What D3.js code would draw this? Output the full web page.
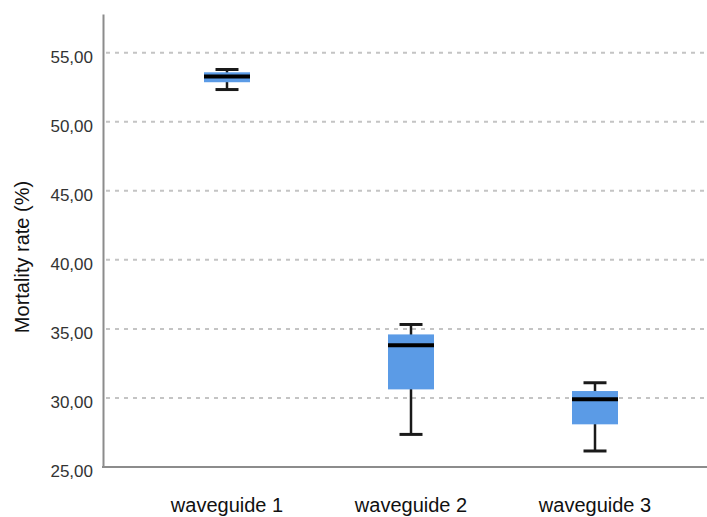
<!DOCTYPE html>
<meta charset="utf-8">
<style>
  body { margin: 0; background: #fff; }
  .grid line { stroke: #c4c4c4; stroke-width: 2px; stroke-dasharray: 4,5; }
  .axis path { stroke: #8c8c8c; stroke-width: 2px; }
  .yaxis text { font-family: "Liberation Sans", Arial, sans-serif; font-size: 17px; fill: #333; }
  .xaxis text { font-family: "Liberation Sans", Arial, sans-serif; font-size: 20px; fill: #111; }
  .title { font-family: "Liberation Sans", Arial, sans-serif; font-size: 20px; fill: #111; }
</style>
<body>
<script src="https://d3js.org/d3.v7.min.js"></script>
<script>
  // data
  var categories = ["waveguide 1", "waveguide 2", "waveguide 3"];
  var whiskerLow = [52.33, 27.36, 26.16];
  var q1 = [52.86, 30.62, 28.09];
  var median = [53.27, 33.82, 29.9];
  var q3 = [53.58, 34.6, 30.5];
  var whiskerHigh = [53.78, 35.32, 31.1];
  var yTicks = [25, 30, 35, 40, 45, 50, 55];

  var width = 707, height = 517;
  var margin = { top: 14, right: 0, bottom: 50, left: 103 };

  var svg = d3.select("body").append("svg")
    .attr("width", width)
    .attr("height", height);

  var y = d3.scaleLinear().domain([25, 57.8]).range([height - margin.bottom, margin.top]);
  var x = d3.scaleBand().domain(categories).range([135, 687]);

  var locale = d3.formatLocale({ decimal: ",", thousands: ".", grouping: [3], currency: ["", ""] });
  var fmt = locale.format(".2f");

  // dotted gridlines
  svg.append("g")
    .attr("class", "grid")
    .selectAll("line")
    .data(yTicks.filter(function(d) { return d > 25; }))
    .enter().append("line")
    .attr("x1", margin.left + 3)
    .attr("x2", width)
    .attr("y1", function(d) { return y(d); })
    .attr("y2", function(d) { return y(d); });

  // y axis
  var yAxis = svg.append("g")
    .attr("class", "axis yaxis")
    .attr("transform", "translate(" + margin.left + ",0)")
    .call(d3.axisLeft(y).tickValues(yTicks).tickFormat(fmt).tickSize(0).tickPadding(10));
  yAxis.selectAll("text").attr("dy", "0.55em");

  // x axis
  var xAxis = svg.append("g")
    .attr("class", "axis xaxis")
    .attr("transform", "translate(0," + y(25) + ")")
    .call(d3.axisBottom(x).tickSize(0).tickSizeOuter(0).tickPadding(31));
  xAxis.select(".domain").attr("d", "M" + (margin.left - 1) + ",0H" + width);

  svg.append("text")
    .attr("class", "title")
    .attr("transform", "translate(29," + 257 + ") rotate(-90)")
    .attr("text-anchor", "middle")
    .text("Mortality rate (%)");

  var boxW = x.bandwidth() * 0.25;
  var capW = boxW * 0.5;

  var boxes = svg.selectAll(".box")
    .data(categories)
    .enter().append("g")
    .attr("class", "box")
    .attr("transform", function(d) { return "translate(" + (x(d) + x.bandwidth() / 2) + ",0)"; });

  // whisker stems
  boxes.append("line")
    .attr("x1", 0).attr("x2", 0)
    .attr("y1", function(d, i) { return y(whiskerHigh[i]); })
    .attr("y2", function(d, i) { return y(whiskerLow[i]); })
    .style("stroke", "#1a1a1a").style("stroke-width", 2.5);

  // caps
  [whiskerHigh, whiskerLow].forEach(function(arr) {
    boxes.append("line")
      .attr("x1", -capW / 2).attr("x2", capW / 2)
      .attr("y1", function(d, i) { return y(arr[i]); })
      .attr("y2", function(d, i) { return y(arr[i]); })
      .style("stroke", "#1a1a1a").style("stroke-width", 3);
  });

  boxes.append("rect")
    .attr("x", -boxW / 2)
    .attr("width", boxW)
    .attr("y", function(d, i) { return y(q3[i]); })
    .attr("height", function(d, i) { return y(q1[i]) - y(q3[i]); })
    .style("fill", "#5b9be6");

  boxes.append("line")
    .attr("x1", -boxW / 2).attr("x2", boxW / 2)
    .attr("y1", function(d, i) { return y(median[i]); })
    .attr("y2", function(d, i) { return y(median[i]); })
    .style("stroke", "#000").style("stroke-width", 4);
</script>
</body>
